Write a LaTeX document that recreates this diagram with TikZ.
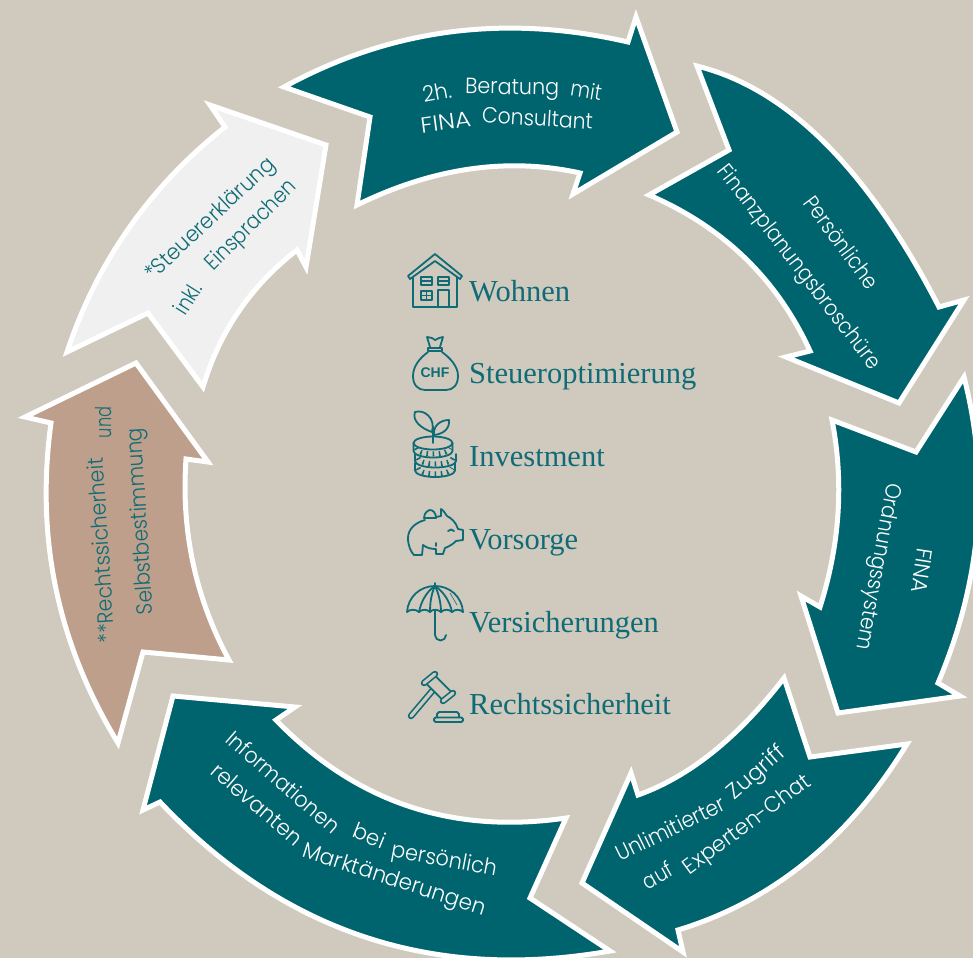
\documentclass[tikz,border=0pt]{standalone}
\usepackage{fontspec}
\usepackage{graphicx}
\usetikzlibrary{calc}
\setmainfont{Liberation Serif}
\newfontfamily\lite{Poppins Light}
\newfontfamily\chffont{Liberation Sans}
\definecolor{bgc}{HTML}{D0C9BE}
\definecolor{tealc}{HTML}{00646E}
\definecolor{tanc}{HTML}{BE9F8B}
\definecolor{palec}{HTML}{F0F0F0}
\definecolor{inkc}{HTML}{0F6C76}
\newcommand\cv[3]{.. controls ($1.3333*#2-0.3333*#3$) and ($1.3333*#2-0.3333*#1$) .. #3}
% name, x, y, angle, width along the baseline, colour, word
\newcommand\wrd[7]{\node[wordlabel,text=#6,rotate=#4] (#1) at (#2,#3) {\resizebox{#5pt}{\height}{#7}};}
\tikzset{
  arrowshape/.style={draw=white,line width=5,line join=miter,miter limit=10},
  wordlabel/.style={anchor=base,inner sep=0,font=\lite\fontsize{22}{26}\selectfont},
  listlabel/.style={anchor=base west,inner sep=0,text=inkc,font=\fontsize{30.5}{34}\selectfont},
  icon/.style={draw=inkc,line width=1.8,line join=round,line cap=round},
}
\begin{document}
\begin{tikzpicture}[x=1pt,y=-1pt]
\useasboundingbox (0,0) rectangle (973,958);
\clip (0,0) rectangle (973,958);
\fill[bgc] (0,0) rectangle (973,958);

% arrows
\draw[arrowshape,fill=tealc] (284,87) \cv{(284,87)}{(450,32)}{(628,42)} -- (636,17) -- (677,132) -- (573,194) -- (580,173)
  \cv{(580,173)}{(470,169)}{(357,205)} -- (370,117) -- cycle;
\draw[arrowshape,fill=tealc] (697,66) \cv{(697,66)}{(825,143)}{(939,307)} -- (964,300) -- (899,403) -- (786,357) -- (810,351)
  \cv{(810,351)}{(745,258)}{(649,195)} -- (729,150) -- cycle;
\draw[arrowshape,fill=tealc] (964,377) \cv{(964,377)}{(977,530)}{(938,683)} -- (960,696) -- (838,713) -- (801,596) -- (820,607)
  \cv{(820,607)}{(838,513)}{(832,420)} -- (916,452) -- cycle;
\draw[arrowshape,fill=tealc] (907,744) \cv{(907,744)}{(806,862)}{(678,930)} -- (683,952) -- (582,883) -- (631,773) -- (638,795)
  \cv{(638,795)}{(713,752)}{(784,678)} -- (810,757) -- cycle;
\draw[arrowshape,fill=tealc] (610,951) \cv{(610,951)}{(365,937)}{(160,802)} -- (143,810) -- (173,696) -- (295,707) -- (276,720)
  \cv{(276,720)}{(408,806)}{(566,818)} -- (530,898) -- cycle;
\draw[arrowshape,fill=tanc] (118,743) \cv{(118,743)}{(56,589)}{(51,423)} -- (25,417) -- (136,363) -- (208,462) -- (186,459)
  \cv{(186,459)}{(193,563)}{(229,660)} -- (143,652) -- cycle;
\draw[arrowshape,fill=palec] (67,352) \cv{(67,352)}{(129,228)}{(225,127)} -- (210,105) -- (326,145) -- (306,267) -- (297,250)
  \cv{(297,250)}{(239,311)}{(203,387)} -- (148,313) -- cycle;

% arrow labels, word by word along the curve of each arrow
\wrd{a1}{438.3}{100}{10.6}{29}{white}{2h.}
\wrd{a2}{512}{94.3}{-1}{94}{white}{Beratung}
\wrd{a3}{585}{98.5}{-9.5}{31}{white}{mit}
\wrd{a4}{446.7}{130}{7.5}{50.5}{white}{FINA}
\wrd{a5}{537}{126}{-3.4}{111}{white}{Consultant}
\wrd{b1}{835}{247}{-53.6}{109}{white}{Persönliche}
\wrd{b2}{794}{271}{-52.3}{252}{white}{Finanzplanungsbroschüre}
\wrd{c1}{914.5}{569.5}{-98.8}{45.5}{white}{FINA}
\wrd{c2}{872}{565.5}{-100.6}{169}{white}{Ordnungssystem}
\wrd{d1}{674}{835.5}{26}{119}{white}{Unlimitierter}
\wrd{d2}{760.8}{777.5}{41}{68.6}{white}{Zugriff}
\wrd{d3}{661.5}{882.5}{29}{31}{white}{auf}
\wrd{d4}{751}{830}{36.3}{152}{white}{Experten-Chat}
\wrd{e1}{278}{788}{-41}{143}{white}{Informationen}
\wrd{e2}{366.7}{843}{-22}{32.4}{white}{bei}
\wrd{e3}{443}{866.5}{-10.4}{107}{white}{persönlich}
\wrd{e4}{252}{810}{-40.7}{113}{white}{relevanten}
\wrd{e5}{392.5}{886}{-17.9}{191}{white}{Marktänderungen}
\wrd{f1}{109}{550}{93.6}{185}{inkc}{**Rechtssicherheit}
\wrd{f2}{111.3}{422.5}{89}{31}{inkc}{und}
\wrd{f3}{147}{521}{93.5}{187}{inkc}{Selbstbestimmung}
\wrd{g1}{214.5}{224}{43.3}{169}{inkc}{*Steuererklärung}
\wrd{g2}{194.5}{302.5}{58}{33}{inkc}{inkl.}
\wrd{g3}{255.5}{230}{44.7}{118.5}{inkc}{Einsprachen}

% list
\node[listlabel] (wohnen) at (469,301) {Wohnen};
\node[listlabel] (steuer) at (469,383) {Steueroptimierung};
\node[listlabel] (invest) at (469,466) {Investment};
\node[listlabel] (vorsorge) at (469,549) {Vorsorge};
\node[listlabel] (versich) at (469,632) {Versicherungen};
\node[listlabel] (recht) at (469,714) {Rechtssicherheit};

% house
\draw[icon] (408,276) -- (435,254) -- (462,276) -- (460,279) -- (435,261) -- (410,279) -- cycle;
\draw[icon] (413,277) -- (413,307) -- (457,307) -- (457,277);
\draw[icon] (421,277) rectangle (432,285) (421,281) -- (432,281);
\draw[icon] (438,277) rectangle (449,285) (438,281) -- (449,281);
\draw[icon] (421,291) rectangle (432,300) (421,295.5) -- (432,295.5) (426.5,291) -- (426.5,300);
\draw[icon] (438,307) -- (438,290) -- (449,290) -- (449,307);

% bag
\draw[icon] (428,352) .. controls (420,358) and (413,366) .. (413,376) .. controls (413,385) and (418,390) .. (425,390)
  -- (446,390) .. controls (453,390) and (458,385) .. (458,376) .. controls (458,366) and (450,358) .. (442,352);
\draw[icon] (428,348) rectangle (442,351);
\draw[icon] (430,347) -- (427,337) -- (432,338) -- (435,340) -- (439,338) -- (443,337) -- (440,347);
\node[inner sep=0,text=inkc,font=\chffont\bfseries\fontsize{14}{14}\selectfont] (chf) at (435,373) {CHF};

% coins and plant
\draw[icon] (433,443) ellipse [x radius=19.5,y radius=6.5];
\draw[icon] (413.5,443) -- (413.5,451) arc[start angle=180,end angle=0,x radius=19.5,y radius=6.5] -- (452.5,443);
\draw[icon] (415,454) -- (415,461) arc[start angle=180,end angle=0,x radius=20.5,y radius=6.5] -- (456,454);
\draw[icon] (415,463) -- (415,470.5) arc[start angle=180,end angle=0,x radius=20,y radius=6.5] -- (455,463);
\draw[inkc,line width=5,dash pattern=on 1.6 off 4.6] (416,448) arc[start angle=180,end angle=0,x radius=17,y radius=6];
\draw[inkc,line width=5,dash pattern=on 1.6 off 4.6] (418,458) arc[start angle=180,end angle=0,x radius=17.5,y radius=6];
\draw[inkc,line width=5,dash pattern=on 1.6 off 4.6] (418,468) arc[start angle=180,end angle=0,x radius=17,y radius=6];
\draw[icon] (433,443) -- (433,427);
\draw[icon] (432,432) .. controls (420,428) and (412,420) .. (415,412) .. controls (424,409) and (436,418) .. (432,432);
\draw[icon] (434,435) .. controls (433,426) and (440,420) .. (449,420) .. controls (450,428) and (444,434) .. (434,435);

% piggy
\draw[icon] (425,520) .. controls (414,523) and (408,530) .. (408,538) .. controls (408,546) and (411,552) .. (414,555)
  -- (422,555) -- (423,545) .. controls (427,548) and (431,549) .. (436,549) -- (436,554) -- (443,554) -- (445,548)
  .. controls (450,546) and (453,544) .. (456,541) -- (463,540) -- (463,530) -- (458,529)
  .. controls (456,522) and (451,518) .. (447,516) .. controls (445,513) and (443,510) .. (441,509) -- (441,516) -- (436,517);
\draw[icon] (424,518) .. controls (424,512) and (429,510) .. (430,510) .. controls (433,510) and (436,513) .. (436,518) -- cycle;
\draw[icon] (448,531) .. controls (450,529) and (452,529) .. (454,531);
\draw[icon] (436,543) -- (436,546);

% umbrella
\draw[icon] (435,583) -- (435,587);
\draw[icon] (407,612) .. controls (408,597) and (420,586) .. (435,586) .. controls (450,586) and (462,597) .. (463,612)
  .. controls (460,609) and (455,609) .. (452,612) .. controls (449,609) and (444,609) .. (441,612)
  .. controls (438,609) and (432,609) .. (430,612) .. controls (427,609) and (422,609) .. (419,612)
  .. controls (416,609) and (410,609) .. (407,612);
\draw[icon] (435,586) .. controls (426,592) and (421,602) .. (419,612);
\draw[icon] (435,586) .. controls (431,594) and (430,604) .. (430,612);
\draw[icon] (435,586) .. controls (439,594) and (441,604) .. (441,612);
\draw[icon] (435,586) .. controls (444,592) and (450,602) .. (452,612);
\draw[inkc,line width=.6] (450,593) -- (457,605);
\draw[icon] (435,611) -- (435,635) arc[start angle=180,end angle=0,radius=5.5];

% gavel
\draw[inkc,line width=6.5,line cap=round] (411,716) -- (433,690);
\draw[bgc,line width=3.2,line cap=round] (411,716) -- (433,690);
\draw[icon,fill=bgc] (433.7,674.3) -- (452.2,692.8) -- (443.8,701.2) -- (425.3,682.7) -- cycle;
\draw[inkc,line width=6.5,line cap=round] (424,683) -- (435,674);
\draw[bgc,line width=3.2,line cap=round] (424,683) -- (435,674);
\draw[inkc,line width=6.5,line cap=round] (443,701) -- (453,693);
\draw[bgc,line width=3.2,line cap=round] (443,701) -- (453,693);
\draw[icon] (437,717.5) -- (437,714) -- (439,712) -- (457,712) -- (459,714) -- (459,717.5);
\draw[icon,rounded corners=1.5] (434,717.5) rectangle (463,722);
\end{tikzpicture}
\end{document}
